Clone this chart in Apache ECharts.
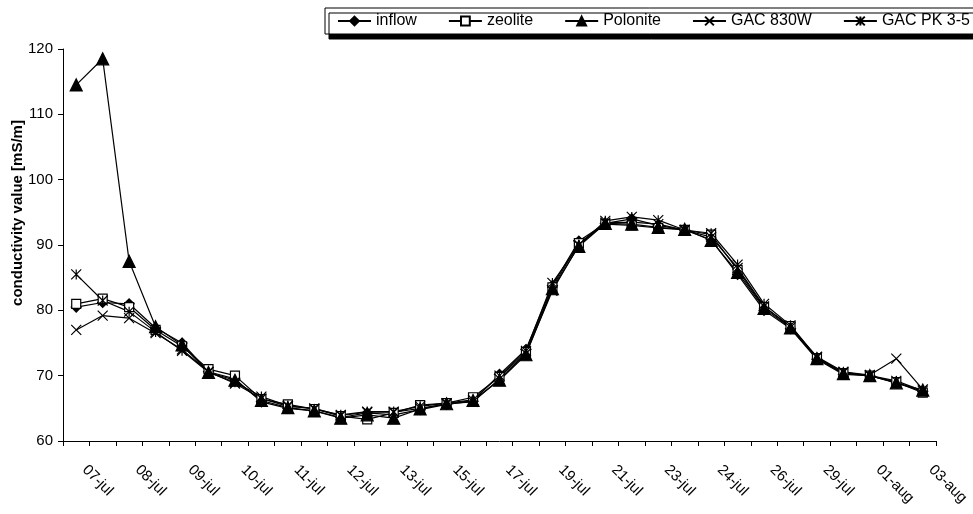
<!DOCTYPE html>
<html>
<head>
<meta charset="utf-8">
<script src="https://cdn.jsdelivr.net/npm/echarts@6/dist/echarts.min.js"></script>
<style>
html,body{margin:0;padding:0;background:#fff;}
#chart{width:973px;height:514px;}
</style>
</head>
<body>
<div id="chart"></div>
<script>
var tickLabels = ['07-jul','08-jul','09-jul','10-jul','11-jul','12-jul','13-jul','15-jul','17-jul','19-jul','21-jul','23-jul','24-jul','26-jul','29-jul','01-aug','03-aug'];
var sampleCount = 33;
var inflow   = [80.5, 81.2, 81.0, 77.3, 75.0, 70.6, 69.5, 66.0, 65.0, 64.6, 63.6, 64.3, 64.0, 64.8, 65.6, 66.1, 70.2, 74.0, 83.8, 90.6, 93.3, 94.0, 93.0, 92.3, 90.8, 85.5, 80.0, 77.2, 72.5, 70.2, 70.0, 68.9, 67.6];
var zeolite  = [81.0, 81.8, 80.5, 77.0, 74.5, 71.0, 70.0, 66.4, 65.6, 64.9, 63.8, 63.3, 64.3, 65.5, 65.8, 66.7, 69.8, 73.6, 83.5, 90.3, 93.2, 93.0, 92.6, 92.3, 91.6, 86.2, 80.5, 77.6, 72.7, 70.4, 70.0, 69.0, 67.4];
var polonite = [114.5, 118.5, 87.5, 77.5, 74.7, 70.5, 69.3, 66.2, 65.1, 64.6, 63.5, 64.0, 63.5, 64.9, 65.7, 66.2, 69.3, 73.2, 83.3, 89.8, 93.3, 93.2, 92.7, 92.4, 90.7, 85.8, 80.3, 77.3, 72.6, 70.3, 70.0, 68.9, 67.8];
var gac830w  = [77.0, 79.2, 78.8, 76.5, 74.0, 70.6, 68.8, 66.5, 65.3, 65.0, 63.9, 64.4, 64.4, 65.0, 65.7, 66.0, 69.5, 73.4, 83.0, 90.0, 93.4, 93.5, 93.2, 92.3, 91.2, 86.5, 80.6, 77.4, 72.9, 70.6, 70.1, 72.6, 67.9];
var gacpk35  = [85.5, 81.5, 79.8, 76.7, 73.8, 70.5, 69.0, 66.8, 65.4, 64.9, 64.0, 64.5, 64.5, 65.3, 65.8, 66.3, 70.0, 73.8, 84.2, 90.0, 93.7, 94.3, 93.8, 92.3, 91.8, 87.0, 81.0, 77.7, 72.8, 70.5, 70.0, 69.2, 67.7];

var categories = [];
for (var i = 0; i < sampleCount; i++) {
  categories.push(i % 2 === 0 ? tickLabels[i / 2] : '');
}

var FONT = "'Liberation Sans', Arial, sans-serif";
var xPath = 'path://M0,0L10,10M10,0L0,10';
var starPath = 'path://M0,0L10,10M10,0L0,10M5,0L5,10';

function mk(name, data, symbol, size, fill) {
  return {
    name: name,
    type: 'line',
    data: data,
    symbol: symbol,
    symbolSize: size,
    showSymbol: true,
    showAllSymbol: true,
    lineStyle: { color: '#000', width: 1.2 },
    itemStyle: { color: fill, borderColor: '#000', borderWidth: 1.2 },
    emphasis: { disabled: true }
  };
}

var chart = echarts.init(document.getElementById('chart'), null, { renderer: 'canvas' });
chart.setOption({
  animation: false,
  backgroundColor: '#fff',
  textStyle: { fontFamily: FONT },
  grid: { left: 63, right: 37, top: 49, bottom: 73, containLabel: false, outerBoundsMode: 'none' },
  legend: {
    left: 325,
    top: 8,
    width: 1000,
    padding: [5, 12, 5, 12],
    itemGap: 31,
    itemWidth: 33,
    itemHeight: 11,
    backgroundColor: '#fff',
    borderColor: '#000',
    borderWidth: 1,
    shadowColor: '#000',
    shadowBlur: 0,
    shadowOffsetX: 4,
    shadowOffsetY: 5,
    textStyle: { fontFamily: FONT, fontSize: 16, color: '#000' },
    data: ['inflow', 'zeolite', 'Polonite', 'GAC 830W', 'GAC PK 3-5']
  },
  xAxis: {
    type: 'category',
    data: categories,
    boundaryGap: true,
    axisLine: { lineStyle: { color: '#000', width: 1 } },
    axisTick: { show: true, interval: 0, length: 5, lineStyle: { color: '#000' } },
    axisLabel: { interval: 1, rotate: -45, margin: 18, padding: [0, 0, 0, 12], fontSize: 15, color: '#000', fontFamily: FONT },
    splitLine: { show: false }
  },
  yAxis: {
    type: 'value',
    min: 60,
    max: 120,
    interval: 10,
    name: 'conductivity value [mS/m]',
    nameLocation: 'middle',
    nameGap: 38,
    nameMoveOverlap: false,
    nameTextStyle: { fontFamily: FONT, fontSize: 15, fontWeight: 'bold', color: '#000', padding: [0, 0, 0, 64] },
    axisLine: { show: true, lineStyle: { color: '#000', width: 1 } },
    axisTick: { show: true, length: 5, lineStyle: { color: '#000' } },
    axisLabel: { fontSize: 15, color: '#000', margin: 10, fontFamily: FONT },
    splitLine: { show: false }
  },
  series: [
    mk('inflow', inflow, 'diamond', 10, '#000'),
    mk('zeolite', zeolite, 'rect', 9, '#fff'),
    mk('Polonite', polonite, 'triangle', 12, '#000'),
    mk('GAC 830W', gac830w, xPath, 10, 'rgba(0,0,0,0)'),
    mk('GAC PK 3-5', gacpk35, starPath, 10, 'rgba(0,0,0,0)')
  ]
});
</script>
</body>
</html>
